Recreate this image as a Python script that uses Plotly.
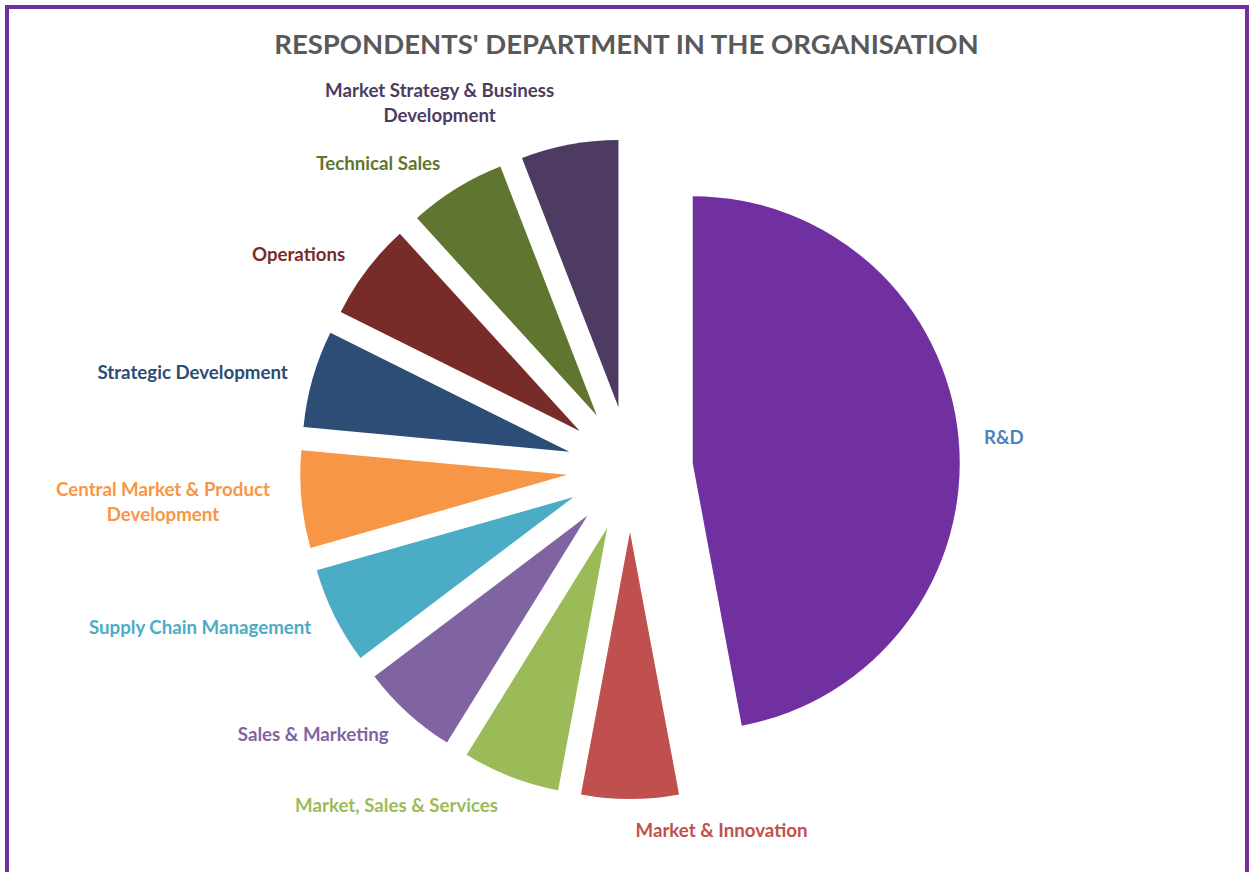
import plotly.graph_objects as go

departments = [
    "R&D",
    "Market & Innovation",
    "Market, Sales & Services",
    "Sales & Marketing",
    "Supply Chain Management",
    "Central Market & Product Development",
    "Strategic Development",
    "Operations",
    "Technical Sales",
    "Market Strategy & Business Development",
]
respondents = [8, 1, 1, 1, 1, 1, 1, 1, 1, 1]
slice_colors = [
    "#7030A0", "#C0504D", "#9BBB59", "#8064A2", "#4BACC6",
    "#F79646", "#2C4D75", "#772C2A", "#5F7530", "#4D3B62",
]
label_colors = [
    "#4F81BD", "#C0504D", "#9BBB59", "#8064A2", "#4BACC6",
    "#F79646", "#2C4D75", "#772C2A", "#5F7530", "#4D3B62",
]
wrapped = {
    "Central Market & Product Development": "Central Market & Product<br>Development",
    "Market Strategy & Business Development": "Market Strategy & Business<br>Development",
}
display_text = ["<b>" + wrapped.get(d, d) + "</b>" for d in departments]

W, H = 1253, 872
cx, cy = 630, 469
r_slice, r_label, pull_px = 267, 287, 63


def domain_for(radius):
    half = radius + pull_px
    return dict(x=[(cx - half) / W, (cx + half) / W],
                y=[1 - (cy + half) / H, 1 - (cy - half) / H])


fig = go.Figure()
# visible slices
fig.add_trace(go.Pie(
    labels=departments,
    values=respondents,
    textinfo="none",
    sort=False,
    direction="clockwise",
    rotation=0,
    pull=[pull_px / r_slice] * len(departments),
    marker=dict(colors=slice_colors, line=dict(width=0)),
    hoverinfo="label+value+percent",
    showlegend=False,
    automargin=False,
    domain=domain_for(r_slice),
))
# transparent companion pie that carries the outside labels a little further out
fig.add_trace(go.Pie(
    labels=departments,
    values=respondents,
    text=display_text,
    textinfo="text",
    textposition="outside",
    sort=False,
    direction="clockwise",
    rotation=0,
    pull=[pull_px / r_label] * len(departments),
    marker=dict(colors=["rgba(0,0,0,0)"] * len(departments), line=dict(width=0)),
    outsidetextfont=dict(family="Lato, Open Sans, sans-serif", size=18.7, color=label_colors),
    hoverinfo="skip",
    showlegend=False,
    automargin=False,
    domain=domain_for(r_label),
))

fig.update_layout(
    width=W, height=H,
    margin=dict(l=0, r=0, t=0, b=0, pad=0, autoexpand=False),
    paper_bgcolor="white",
    showlegend=False,
    title=dict(
        text="<b>RESPONDENTS' DEPARTMENT IN THE ORGANISATION</b>",
        x=0.5, xanchor="center", y=1 - 44 / H, yanchor="middle",
        font=dict(family="Lato, Open Sans, sans-serif", size=27.5, color="#595959"),
    ),
    shapes=[dict(type="rect", xref="paper", yref="paper", x0=7 / W, x1=1247 / W, y0=-0.01, y1=1 - 7 / H,
                 line=dict(color="#7030A0", width=4))],
)

fig.write_html("out.html")
